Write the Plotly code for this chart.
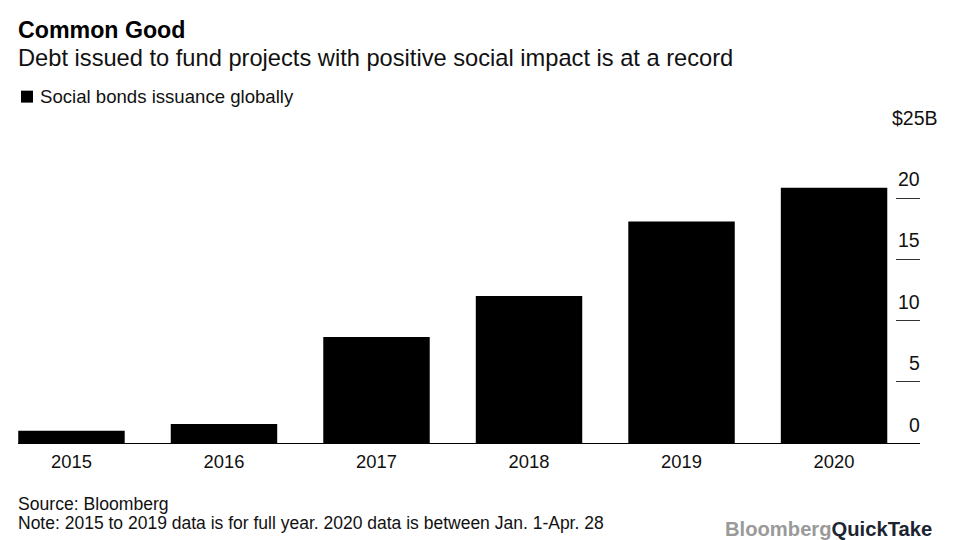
import plotly.graph_objects as go

WIDTH, HEIGHT = 960, 540
FONT = "Liberation Sans"

years = ["2015", "2016", "2017", "2018", "2019", "2020"]
issuance = [1.0, 1.55, 8.65, 12.0, 18.1, 20.85]
tick_values = [0, 5, 10, 15, 20, 25]
tick_labels = ["0", "5", "10", "15", "20", "$25B"]

title = "Common Good"
subtitle = "Debt issued to fund projects with positive social impact is at a record"
series_name = "Social bonds issuance globally"
source = "Source: Bloomberg"
note = "Note: 2015 to 2019 data is for full year. 2020 data is between Jan. 1-Apr. 28"

L, R, T, B = 18, 920, 136.5, 443.5

def px_x(v):
    return (v - L) / (R - L)

def px_y(v):
    return (B - v) / (B - T)

fig = go.Figure(go.Bar(
    x=years, y=issuance, name=series_name, width=0.698,
    marker=dict(color="#000000", line_width=0), showlegend=False,
))

def text(s, x, y, size, color="#111111", anchor="left", xref="paper", yref="paper", yanchor="middle", **kw):
    fig.add_annotation(text=s, x=x, y=y, xref=xref, yref=yref, xanchor=anchor, yanchor=yanchor,
                       showarrow=False, align=anchor, borderpad=0,
                       font=dict(family=FONT, size=size, color=color), **kw)

text(f"<b>{title}</b>", px_x(17), px_y(29), 23.2, "#000000")
text(subtitle, px_x(17), px_y(57), 23.66)
text(series_name, px_x(39), px_y(96), 18.6)
text(source, px_x(17), px_y(505), 17.6)
text(note, px_x(17), px_y(524), 17.5)
text('<b><span style="color:#9a9a9a">Bloomberg</span><span style="color:#1c2430">QuickTake</span></b>',
     px_x(933), px_y(530), 20.2, anchor="right")

for v, lab in zip(tick_values, tick_labels):
    text(lab, px_x(939 if lab.startswith("$") else 921), v, 19.5, anchor="right", yref="y", yanchor="bottom",
         yshift=7 if v else 6)

fig.add_shape(type="rect", xref="paper", yref="paper", x0=px_x(21), x1=px_x(33),
              y0=px_y(102), y1=px_y(90), fillcolor="#000000", line_width=0)

fig.update_layout(
    width=WIDTH, height=HEIGHT, autosize=False,
    margin=dict(l=L, r=WIDTH - R, t=T, b=HEIGHT - B, pad=0),
    paper_bgcolor="#ffffff", plot_bgcolor="#ffffff",
    font=dict(family=FONT, color="#111111"),
    xaxis=dict(type="category", categoryorder="array", categoryarray=years,
               range=[-0.3506, 5.5636], showgrid=False, zeroline=False,
               showline=True, linecolor="#000000", linewidth=1,
               ticks="outside", ticklen=2, tickcolor="rgba(0,0,0,0)",
               tickfont=dict(family=FONT, size=18.4, color="#111111")),
    yaxis=dict(range=[0, 25], side="right", showgrid=False, zeroline=False, showline=False,
               tickmode="array", tickvals=tick_values, ticktext=[""] * len(tick_values),
               ticks="inside", ticklen=24, tickwidth=1, tickcolor="#333333"),
)
fig.write_html("out.html", config={"displayModeBar": False},
               post_script="document.body.style.margin='0';document.documentElement.style.overflow='hidden';")
